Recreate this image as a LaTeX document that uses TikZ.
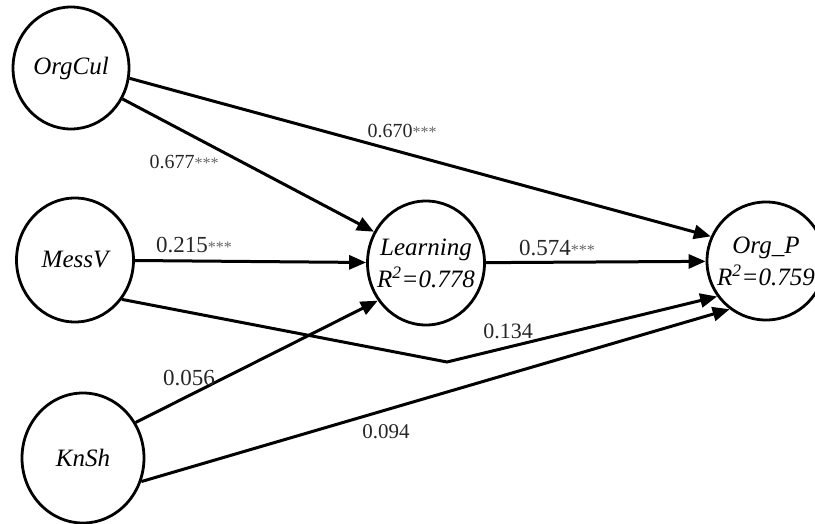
\documentclass[tikz,border=0pt]{standalone}
\usepackage{fontspec}
\setmainfont{Liberation Serif}
\usetikzlibrary{arrows.meta,shapes.geometric}

% significance stars, set smaller and in grey
\newcommand{\sigmark}{{\fontsize{16}{16}\selectfont\color{black!60}***}}

\tikzset{
  construct/.style={draw, ellipse, line width=2.8pt, inner sep=-14pt,
    font=\fontsize{25}{32}\selectfont\itshape, align=center},
  path/.style={line width=3pt, -{Triangle[length=17pt,width=14pt]}},
  coef/.style={inner sep=0pt, text=black!85},
}

\begin{document}
\begin{tikzpicture}[x=1pt, y=-1pt]
  \useasboundingbox (0,0) rectangle (815,524);

  % latent constructs
  \node[construct, minimum width=116pt, minimum height=122pt] (OrgCul) at (71,68) {OrgCul};
  \node[construct, minimum width=117pt, minimum height=124pt] (MessV) at (75,260) {MessV};
  \node[construct, minimum width=122pt, minimum height=130pt] (KnSh) at (83,458) {KnSh};
  \node[construct, minimum width=117pt, minimum height=124pt] (Learning) at (426,263)
    {Learning\\R\textsuperscript{2}=0.778};
  \node[construct, minimum width=118pt, minimum height=118pt] (OrgP) at (766,261)
    {Org\_P\\R\textsuperscript{2}=0.759};

  % bend of the MessV -> Org_P path
  \coordinate (bend) at (447,362);

  % structural paths
  \draw[path] (OrgCul.-10) -- (OrgP.156);
  \draw[path] (OrgCul.-31) -- (Learning.149);
  \draw[path] (MessV) -- (Learning);
  \draw[path] (Learning) -- (OrgP);
  \draw[path] (MessV.-40) -- (bend) -- (OrgP.-144);
  \draw[path] (KnSh.34) -- (Learning.-142);
  \draw[path] (KnSh.-22) -- (OrgP.-127);

  % path coefficients
  \node[coef, font=\fontsize{20}{20}\selectfont] (c1) at (402,131) {0.670\sigmark};
  \node[coef, font=\fontsize{20}{20}\selectfont] (c2) at (184,162) {0.677\sigmark};
  \node[coef, font=\fontsize{23}{23}\selectfont] (c3) at (194,245) {0.215\sigmark};
  \node[coef, font=\fontsize{23}{23}\selectfont] (c4) at (557,248) {0.574\sigmark};
  \node[coef, font=\fontsize{22}{22}\selectfont] (c5) at (508,331) {0.134};
  \node[coef, font=\fontsize{23}{23}\selectfont] (c6) at (189,378) {0.056};
  \node[coef, font=\fontsize{21}{21}\selectfont] (c7) at (386,432) {0.094};
\end{tikzpicture}
\end{document}
